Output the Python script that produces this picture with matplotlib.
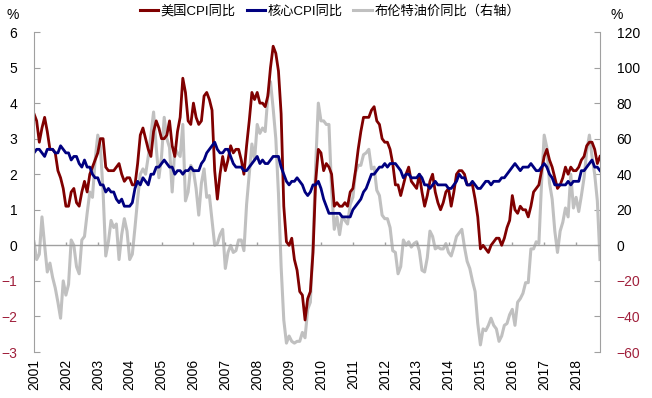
import matplotlib
matplotlib.use("Agg")
import matplotlib.pyplot as plt
from matplotlib.lines import Line2D
import numpy as np

plt.rcParams["font.family"] = ["Liberation Sans", "Noto Sans CJK SC", "DejaVu Sans"]

years = [str(y) for y in range(2001, 2019)]

# US CPI YoY (%), monthly Jan 2001 - Oct 2018
cpi = [
    3.7, 3.5, 2.9, 3.3, 3.6, 3.2, 2.7, 2.7, 2.6, 2.1, 1.9, 1.6,
    1.1, 1.1, 1.5, 1.6, 1.2, 1.1, 1.5, 1.8, 1.5, 2.0, 2.2, 2.4,
    2.6, 3.0, 3.0, 2.2, 2.1, 2.1, 2.1, 2.2, 2.3, 2.0, 1.8, 1.9,
    1.9, 1.7, 1.7, 2.3, 3.1, 3.3, 3.0, 2.7, 2.5, 3.2, 3.5, 3.3,
    3.0, 3.0, 3.1, 3.5, 2.8, 2.5, 3.2, 3.6, 4.7, 4.3, 3.5, 3.4,
    4.0, 3.6, 3.4, 3.5, 4.2, 4.3, 4.1, 3.8, 2.1, 1.3, 2.0, 2.5,
    2.1, 2.4, 2.8, 2.6, 2.7, 2.7, 2.4, 2.0, 2.8, 3.5, 4.3, 4.1,
    4.3, 4.0, 4.0, 3.9, 4.2, 5.0, 5.6, 5.4, 4.9, 3.7, 1.1, 0.1,
    0.0, 0.2, -0.4, -0.7, -1.3, -1.4, -2.1, -1.5, -1.3, -0.2, 1.8, 2.7,
    2.6, 2.1, 2.3, 2.2, 2.0, 1.1, 1.2, 1.1, 1.1, 1.2, 1.1, 1.5,
    1.6, 2.1, 2.7, 3.2, 3.6, 3.6, 3.6, 3.8, 3.9, 3.5, 3.4, 3.0,
    2.9, 2.9, 2.7, 2.3, 1.7, 1.7, 1.4, 1.7, 2.0, 2.2, 1.8, 1.7,
    1.6, 2.0, 1.5, 1.1, 1.4, 1.8, 2.0, 1.5, 1.2, 1.0, 1.2, 1.5,
    1.6, 1.1, 1.5, 2.0, 2.1, 2.1, 2.0, 1.7, 1.7, 1.7, 1.3, 0.8,
    -0.1, 0.0, -0.1, -0.2, 0.0, 0.1, 0.2, 0.2, 0.0, 0.2, 0.5, 0.7,
    1.4, 1.0, 0.9, 1.1, 1.0, 1.0, 0.8, 1.1, 1.5, 1.6, 1.7, 2.1,
    2.5, 2.7, 2.4, 2.2, 1.9, 1.6, 1.7, 1.9, 2.2, 2.0, 2.2, 2.1,
    2.1, 2.2, 2.4, 2.5, 2.8, 2.9, 2.9, 2.7, 2.3, 2.5,
]

# core CPI YoY (%)
core = [
    2.6, 2.7, 2.7, 2.6, 2.5, 2.7, 2.7, 2.7, 2.6, 2.6, 2.8, 2.7,
    2.6, 2.6, 2.4, 2.5, 2.5, 2.3, 2.2, 2.4, 2.2, 2.2, 2.0, 1.9,
    1.9, 1.7, 1.7, 1.5, 1.6, 1.5, 1.5, 1.3, 1.2, 1.3, 1.1, 1.1,
    1.1, 1.2, 1.6, 1.8, 1.7, 1.9, 1.8, 1.7, 2.0, 2.0, 2.2, 2.2,
    2.3, 2.4, 2.3, 2.2, 2.2, 2.0, 2.1, 2.1, 2.0, 2.1, 2.1, 2.2,
    2.1, 2.1, 2.1, 2.3, 2.4, 2.6, 2.7, 2.8, 2.9, 2.7, 2.6, 2.6,
    2.7, 2.7, 2.5, 2.3, 2.2, 2.2, 2.2, 2.1, 2.1, 2.2, 2.3, 2.4,
    2.5, 2.3, 2.4, 2.3, 2.3, 2.4, 2.5, 2.5, 2.5, 2.2, 2.0, 1.8,
    1.7, 1.8, 1.8, 1.9, 1.8, 1.7, 1.5, 1.4, 1.5, 1.7, 1.7, 1.8,
    1.6, 1.3, 1.1, 0.9, 0.9, 0.9, 0.9, 0.9, 0.8, 0.8, 0.8, 0.8,
    1.0, 1.1, 1.2, 1.3, 1.5, 1.6, 1.8, 2.0, 2.0, 2.1, 2.2, 2.2,
    2.3, 2.2, 2.3, 2.3, 2.3, 2.2, 2.1, 1.9, 2.0, 2.0, 1.9, 1.9,
    1.9, 2.0, 1.9, 1.7, 1.7, 1.6, 1.7, 1.8, 1.7, 1.7, 1.7, 1.7,
    1.6, 1.6, 1.7, 1.8, 2.0, 1.9, 1.9, 1.7, 1.7, 1.8, 1.7, 1.6,
    1.6, 1.7, 1.8, 1.8, 1.7, 1.8, 1.8, 1.8, 1.9, 1.9, 2.0, 2.1,
    2.2, 2.3, 2.2, 2.1, 2.2, 2.2, 2.2, 2.3, 2.2, 2.1, 2.1, 2.2,
    2.3, 2.2, 2.0, 1.9, 1.7, 1.7, 1.7, 1.7, 1.7, 1.8, 1.7, 1.8,
    1.8, 1.8, 2.1, 2.1, 2.2, 2.3, 2.4, 2.2, 2.2, 2.1,
]

# Brent YoY (%), right axis
brent = [
    2, -8, -5, 16, 0, -15, -10, -18, -24, -32, -41, -20,
    -28, -22, 3, 0, -12, -16, 3, 5, 18, 30, 27, 48,
    62, 55, 30, -6, 2, 14, 10, 12, -8, 6, 15, 8,
    -8, -5, 10, 26, 40, 43, 40, 50, 62, 75, 55, 38,
    50, 72, 60, 55, 30, 55, 52, 50, 68, 25, 30, 45,
    42, 32, 17, 35, 43, 27, 28, 14, 0, 1, 6, 9,
    -13, -4, 0, -4, -3, 3, 3, -3, 23, 40, 57, 48,
    68, 63, 66, 64, 84, 92, 77, 60, 29, -12, -42, -55,
    -51, -54, -55, -54, -54, -49, -52, -36, -32, 1, 45, 80,
    70, 70, 68, 68, 31, 9, 16, 6, 16, 14, 12, 23,
    27, 41, 45, 45, 51, 52, 54, 43, 44, 31, 28, 17,
    15, 15, 10, -3, -4, -16, -12, 3, 0, 2, -1, 1,
    2, -3, -14, -15, -7, 8, 5, -2, -1, -2, -2, 1,
    -4, -6, -1, 5, 7, 9, -1, -9, -13, -20, -26, -44,
    -56, -47, -48, -45, -41, -45, -47, -54, -51, -45, -44, -39,
    -36, -45, -32, -30, -27, -21, -21, -2, -2, 2, 1, 35,
    62, 55, 35, 26, 8, -4, 8, 13, 21, 16, 40, 21,
    27, 19, 28, 38, 53, 62, 50, 40, 25, -8,
]

labels = ["美国CPI同比", "核心CPI同比", "布伦特油价同比（右轴）"]
colors = ["#800000", "#000080", "#c0c0c0"]
axis_gray = "#a0a0a0"
neg_red = "#a0203c"

W, H = 652, 398
fig = plt.figure(figsize=(W / 100, H / 100), dpi=100)
ax = fig.add_axes([34 / W, 1 - 352 / H, (600 - 34) / W, (352 - 32) / H])
ax2 = ax.twinx()
ax.set_zorder(ax2.get_zorder() + 1)
ax.patch.set_visible(False)

x = np.arange(len(cpi))
ax2.plot(x, brent, color=colors[2], lw=2.2, solid_joinstyle="round")
ax.plot(x, cpi, color=colors[0], lw=2.0, solid_joinstyle="round")
ax.plot(x, core, color=colors[1], lw=2.0, solid_joinstyle="round")

ax.set_xlim(0, len(cpi) - 1)
ax.set_ylim(-3, 6)
ax2.set_ylim(-60, 120)

# zero line with small year ticks
ax.axhline(0, color=axis_gray, lw=1, zorder=0)
year_pos = np.arange(0, len(cpi), 12)
ax.vlines(year_pos, 0, 0.1, color=axis_gray, lw=1, zorder=0)

ax.set_xticks(year_pos)
ax.set_xticklabels(years, rotation=90, fontsize=10)
ax.tick_params(axis="x", length=0, pad=5)

ax.set_yticks(range(-3, 7))
ax.tick_params(axis="y", direction="in", length=4, color=axis_gray, labelsize=10, pad=12)
for t, v in zip(ax.get_yticklabels(), range(-3, 7)):
    t.set_color(neg_red if v < 0 else "black")

ax2.set_yticks(range(-60, 121, 20))
ax2.tick_params(axis="y", direction="in", length=4, color=axis_gray, labelsize=10, pad=12)
for t, v in zip(ax2.get_yticklabels(), range(-60, 121, 20)):
    t.set_color(neg_red if v < 0 else "black")

for a in (ax, ax2):
    for s in ("top", "bottom"):
        a.spines[s].set_visible(False)
ax.spines["right"].set_visible(False)
ax2.spines["left"].set_visible(False)
ax.spines["left"].set_color(axis_gray)
ax2.spines["right"].set_color(axis_gray)

fig.text(13 / W, 1 - 15 / H, "%", ha="center", va="center", fontsize=10)
fig.text(617 / W, 1 - 15 / H, "%", ha="center", va="center", fontsize=10)

handles = [Line2D([], [], color=c, lw=2.2) for c in colors]
fig.legend(handles, labels, loc="center", bbox_to_anchor=(330 / W, 1 - 11 / H), ncol=3,
           frameon=False, fontsize=9.5, handlelength=1.4, handletextpad=0.2, columnspacing=0.8)

fig.savefig("out.png", dpi=100)
